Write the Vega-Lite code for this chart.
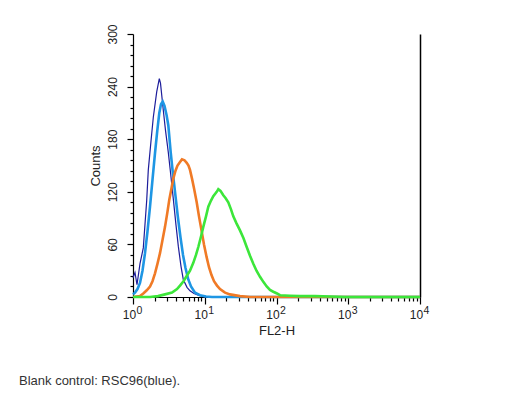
{
  "$schema": "https://vega.github.io/schema/vega-lite/v6.json",
  "width": 287,
  "height": 263,
  "autosize": {"type": "none"},
  "padding": {"left": 133, "top": 34, "right": 104, "bottom": 99},
  "background": "white",
  "config": {"view": {"stroke": null}, "font": "Liberation Sans"},
  "title": {"text": "Blank control: RSC96(blue).", "orient": "bottom", "anchor": "start", "frame": "group", "dx": -114, "offset": 38, "fontSize": 13, "fontWeight": "normal", "color": "#333333", "font": "Liberation Sans"},
  "data": {"values": [
    {"sample": "Blank control", "fl2h": 1, "count": 22},
    {"sample": "Blank control", "fl2h": 1.066, "count": 28},
    {"sample": "Blank control", "fl2h": 1.137, "count": 14},
    {"sample": "Blank control", "fl2h": 1.252, "count": 38},
    {"sample": "Blank control", "fl2h": 1.392, "count": 56},
    {"sample": "Blank control", "fl2h": 1.552, "count": 110},
    {"sample": "Blank control", "fl2h": 1.634, "count": 145},
    {"sample": "Blank control", "fl2h": 1.782, "count": 178},
    {"sample": "Blank control", "fl2h": 1.919, "count": 205},
    {"sample": "Blank control", "fl2h": 2.14, "count": 234},
    {"sample": "Blank control", "fl2h": 2.326, "count": 249},
    {"sample": "Blank control", "fl2h": 2.416, "count": 244},
    {"sample": "Blank control", "fl2h": 2.644, "count": 213},
    {"sample": "Blank control", "fl2h": 2.838, "count": 190},
    {"sample": "Blank control", "fl2h": 3.105, "count": 165},
    {"sample": "Blank control", "fl2h": 3.353, "count": 140},
    {"sample": "Blank control", "fl2h": 3.645, "count": 112},
    {"sample": "Blank control", "fl2h": 3.975, "count": 82},
    {"sample": "Blank control", "fl2h": 4.279, "count": 58},
    {"sample": "Blank control", "fl2h": 4.667, "count": 35},
    {"sample": "Blank control", "fl2h": 5.023, "count": 20},
    {"sample": "Blank control", "fl2h": 5.656, "count": 11},
    {"sample": "Blank control", "fl2h": 6.229, "count": 7},
    {"sample": "Blank control", "fl2h": 7.083, "count": 4},
    {"sample": "Blank control", "fl2h": 8.131, "count": 2},
    {"sample": "Blank control", "fl2h": 10.08, "count": 0},
    {"sample": "Blank control", "fl2h": 10000, "count": 0},
    {"sample": "Control", "fl2h": 1, "count": 3},
    {"sample": "Control", "fl2h": 1.066, "count": 5},
    {"sample": "Control", "fl2h": 1.155, "count": 9},
    {"sample": "Control", "fl2h": 1.252, "count": 16},
    {"sample": "Control", "fl2h": 1.356, "count": 30},
    {"sample": "Control", "fl2h": 1.47, "count": 50},
    {"sample": "Control", "fl2h": 1.593, "count": 75},
    {"sample": "Control", "fl2h": 1.726, "count": 103},
    {"sample": "Control", "fl2h": 1.87, "count": 134},
    {"sample": "Control", "fl2h": 2.026, "count": 164},
    {"sample": "Control", "fl2h": 2.182, "count": 190},
    {"sample": "Control", "fl2h": 2.326, "count": 210},
    {"sample": "Control", "fl2h": 2.456, "count": 220},
    {"sample": "Control", "fl2h": 2.594, "count": 223},
    {"sample": "Control", "fl2h": 2.748, "count": 218},
    {"sample": "Control", "fl2h": 2.93, "count": 208},
    {"sample": "Control", "fl2h": 3.105, "count": 196},
    {"sample": "Control", "fl2h": 3.353, "count": 165},
    {"sample": "Control", "fl2h": 3.61, "count": 140},
    {"sample": "Control", "fl2h": 3.911, "count": 115},
    {"sample": "Control", "fl2h": 4.239, "count": 90},
    {"sample": "Control", "fl2h": 4.592, "count": 68},
    {"sample": "Control", "fl2h": 4.977, "count": 48},
    {"sample": "Control", "fl2h": 5.392, "count": 33},
    {"sample": "Control", "fl2h": 5.898, "count": 20},
    {"sample": "Control", "fl2h": 6.434, "count": 12},
    {"sample": "Control", "fl2h": 7.313, "count": 5},
    {"sample": "Control", "fl2h": 8.587, "count": 2},
    {"sample": "Control", "fl2h": 10.41, "count": 0.5},
    {"sample": "Control", "fl2h": 12.62, "count": 0},
    {"sample": "Control", "fl2h": 10000, "count": 0},
    {"sample": "Sample A", "fl2h": 1, "count": 0},
    {"sample": "Sample A", "fl2h": 1.252, "count": 1},
    {"sample": "Sample A", "fl2h": 1.392, "count": 4},
    {"sample": "Sample A", "fl2h": 1.567, "count": 8},
    {"sample": "Sample A", "fl2h": 1.726, "count": 12},
    {"sample": "Sample A", "fl2h": 1.87, "count": 18},
    {"sample": "Sample A", "fl2h": 2.026, "count": 27},
    {"sample": "Sample A", "fl2h": 2.195, "count": 38},
    {"sample": "Sample A", "fl2h": 2.378, "count": 50},
    {"sample": "Sample A", "fl2h": 2.577, "count": 65},
    {"sample": "Sample A", "fl2h": 2.793, "count": 80},
    {"sample": "Sample A", "fl2h": 3.006, "count": 96},
    {"sample": "Sample A", "fl2h": 3.205, "count": 111},
    {"sample": "Sample A", "fl2h": 3.44, "count": 124},
    {"sample": "Sample A", "fl2h": 3.645, "count": 135},
    {"sample": "Sample A", "fl2h": 3.911, "count": 144},
    {"sample": "Sample A", "fl2h": 4.171, "count": 150},
    {"sample": "Sample A", "fl2h": 4.52, "count": 154},
    {"sample": "Sample A", "fl2h": 4.819, "count": 157},
    {"sample": "Sample A", "fl2h": 5.222, "count": 156},
    {"sample": "Sample A", "fl2h": 5.603, "count": 153},
    {"sample": "Sample A", "fl2h": 5.935, "count": 150},
    {"sample": "Sample A", "fl2h": 6.229, "count": 145},
    {"sample": "Sample A", "fl2h": 6.643, "count": 135},
    {"sample": "Sample A", "fl2h": 7.083, "count": 124},
    {"sample": "Sample A", "fl2h": 7.723, "count": 108},
    {"sample": "Sample A", "fl2h": 8.316, "count": 92},
    {"sample": "Sample A", "fl2h": 9.01, "count": 76},
    {"sample": "Sample A", "fl2h": 9.761, "count": 60},
    {"sample": "Sample A", "fl2h": 10.58, "count": 46},
    {"sample": "Sample A", "fl2h": 11.46, "count": 34},
    {"sample": "Sample A", "fl2h": 12.42, "count": 25},
    {"sample": "Sample A", "fl2h": 13.46, "count": 18},
    {"sample": "Sample A", "fl2h": 14.82, "count": 13},
    {"sample": "Sample A", "fl2h": 16.32, "count": 9},
    {"sample": "Sample A", "fl2h": 19.15, "count": 5},
    {"sample": "Sample A", "fl2h": 22.48, "count": 3},
    {"sample": "Sample A", "fl2h": 30.99, "count": 1},
    {"sample": "Sample A", "fl2h": 42.73, "count": 0},
    {"sample": "Sample A", "fl2h": 10000, "count": 0},
    {"sample": "Sample B", "fl2h": 1, "count": 0},
    {"sample": "Sample B", "fl2h": 1.726, "count": 0},
    {"sample": "Sample B", "fl2h": 2.23, "count": 1},
    {"sample": "Sample B", "fl2h": 2.793, "count": 3},
    {"sample": "Sample B", "fl2h": 3.497, "count": 5},
    {"sample": "Sample B", "fl2h": 4.105, "count": 9},
    {"sample": "Sample B", "fl2h": 4.52, "count": 13},
    {"sample": "Sample B", "fl2h": 5.057, "count": 18},
    {"sample": "Sample B", "fl2h": 5.603, "count": 24},
    {"sample": "Sample B", "fl2h": 6.229, "count": 30},
    {"sample": "Sample B", "fl2h": 6.925, "count": 39},
    {"sample": "Sample B", "fl2h": 7.551, "count": 48},
    {"sample": "Sample B", "fl2h": 8.131, "count": 57},
    {"sample": "Sample B", "fl2h": 8.866, "count": 69},
    {"sample": "Sample B", "fl2h": 9.546, "count": 80},
    {"sample": "Sample B", "fl2h": 10.41, "count": 92},
    {"sample": "Sample B", "fl2h": 11.21, "count": 103},
    {"sample": "Sample B", "fl2h": 12.22, "count": 110},
    {"sample": "Sample B", "fl2h": 13.16, "count": 115},
    {"sample": "Sample B", "fl2h": 14.68, "count": 120},
    {"sample": "Sample B", "fl2h": 15.45, "count": 123},
    {"sample": "Sample B", "fl2h": 16.58, "count": 121},
    {"sample": "Sample B", "fl2h": 18.14, "count": 116},
    {"sample": "Sample B", "fl2h": 19.46, "count": 113},
    {"sample": "Sample B", "fl2h": 21.29, "count": 108},
    {"sample": "Sample B", "fl2h": 23.22, "count": 100},
    {"sample": "Sample B", "fl2h": 25.0, "count": 92},
    {"sample": "Sample B", "fl2h": 27.7, "count": 84},
    {"sample": "Sample B", "fl2h": 30.99, "count": 76},
    {"sample": "Sample B", "fl2h": 34.68, "count": 67},
    {"sample": "Sample B", "fl2h": 38.43, "count": 57},
    {"sample": "Sample B", "fl2h": 42.73, "count": 47},
    {"sample": "Sample B", "fl2h": 47.51, "count": 38},
    {"sample": "Sample B", "fl2h": 52.64, "count": 30},
    {"sample": "Sample B", "fl2h": 58.89, "count": 23},
    {"sample": "Sample B", "fl2h": 65.89, "count": 17},
    {"sample": "Sample B", "fl2h": 73.01, "count": 12},
    {"sample": "Sample B", "fl2h": 81.18, "count": 8},
    {"sample": "Sample B", "fl2h": 90.24, "count": 6},
    {"sample": "Sample B", "fl2h": 101.6, "count": 4},
    {"sample": "Sample B", "fl2h": 111.9, "count": 2},
    {"sample": "Sample B", "fl2h": 154.2, "count": 1.5},
    {"sample": "Sample B", "fl2h": 212.6, "count": 1},
    {"sample": "Sample B", "fl2h": 344, "count": 1},
    {"sample": "Sample B", "fl2h": 556.7, "count": 0.5},
    {"sample": "Sample B", "fl2h": 900.9, "count": 0},
    {"sample": "Sample B", "fl2h": 10000, "count": 0}
  ]},
  "layer": [
    {
      "mark": {"type": "line", "clip": false, "strokeJoin": "miter"},
      "encoding": {
        "x": {
          "field": "fl2h", "type": "quantitative",
          "scale": {"type": "log", "domain": [1, 10000], "nice": false},
          "axis": {
            "orient": "bottom",
            "values": [1,2,3,4,5,6,7,8,9,10,20,30,40,50,60,70,80,90,100,200,300,400,500,600,700,800,900,1000,2000,3000,4000,5000,6000,7000,8000,9000,10000],
            "labelExpr": "abs(log(datum.value)/LN10 - round(log(datum.value)/LN10)) < 0.001 ? '10' : ''",
            "tickSize": {"condition": {"test": "abs(log(datum.value)/LN10 - round(log(datum.value)/LN10)) < 0.001", "value": 7}, "value": 4},
            "title": "FL2-H", "grid": false,
            "domainColor": "#000000", "tickColor": "#000000", "domainWidth": 1.2, "tickWidth": 1.2,
            "labelColor": "#222222", "labelFontSize": 12, "labelFont": "Liberation Sans",
            "labelFlush": false, "labelOverlap": false, "labelBound": false, "labelPadding": 5, "labelOffset": -4,
            "titleFontSize": 13, "titleFontWeight": "normal", "titleColor": "#222222", "titleFont": "Liberation Sans", "titlePadding": 4
          }
        },
        "y": {
          "field": "count", "type": "quantitative",
          "scale": {"domain": [0, 300], "nice": false},
          "axis": {
            "orient": "left",
            "values": [0,12,24,36,48,60,72,84,96,108,120,132,144,156,168,180,192,204,216,228,240,252,264,276,288,300],
            "labelExpr": "datum.value % 60 == 0 ? datum.label : ''",
            "tickSize": {"condition": {"test": "datum.value % 60 == 0", "value": 6}, "value": 3},
            "labelAngle": -90, "labelAlign": "center", "labelBaseline": "bottom", "labelPadding": 8,
            "title": "Counts", "grid": false,
            "domainColor": "#000000", "tickColor": "#000000", "domainWidth": 1.2, "tickWidth": 1.2,
            "labelColor": "#222222", "labelFontSize": 12, "labelFont": "Liberation Sans",
            "labelFlush": false, "labelOverlap": false, "labelBound": false,
            "titleFontSize": 13, "titleFontWeight": "normal", "titleColor": "#222222", "titleFont": "Liberation Sans", "titlePadding": 4
          }
        },
        "color": {
          "field": "sample", "type": "nominal",
          "scale": {"domain": ["Blank control", "Control", "Sample A", "Sample B"], "range": ["#1d1d9b", "#1e96e4", "#f07a26", "#3ce63a"]},
          "legend": null
        },
        "strokeWidth": {"condition": {"test": "datum.sample == 'Blank control'", "value": 1.2}, "value": 2.6}
      }
    },
    {
      "mark": {"type": "point", "opacity": 0},
      "encoding": {
        "x": {
          "field": "fl2h", "type": "quantitative",
          "axis": {
            "orient": "bottom",
            "values": [1, 10, 100, 1000, 10000],
            "labelExpr": "'' + round(log(datum.value)/LN10)",
            "domain": false, "ticks": true, "tickSize": 7, "tickOpacity": 0, "grid": false, "title": null,
            "labelColor": "#222222", "labelFontSize": 10.5, "labelFont": "Liberation Sans",
            "labelFlush": false, "labelOverlap": false, "labelBound": false, "labelPadding": 1, "labelOffset": 6
          }
        },
        "y": {
          "field": "count", "type": "quantitative",
          "axis": {"orient": "right", "ticks": false, "labels": false, "title": null, "grid": false, "domainColor": "#000000", "domainWidth": 1.5}
        }
      }
    }
  ],
  "resolve": {"axis": {"x": "independent", "y": "independent"}}
}
